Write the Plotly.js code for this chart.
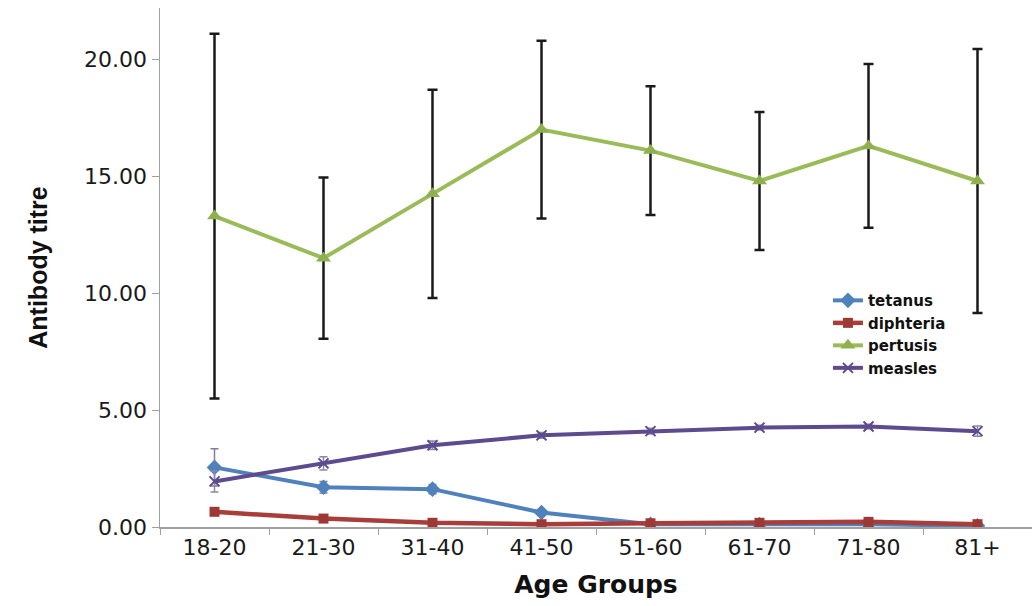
<!DOCTYPE html>
<html>
<head>
<meta charset="utf-8">
<script src="https://cdn.plot.ly/plotly-3.0.1.min.js"></script>
<style>html,body{margin:0;padding:0;background:#fff;}#chart{width:1032px;height:606px;}</style>
</head>
<body>
<div id="chart"></div>
<script>
const ageGroups = ["18-20","21-30","31-40","41-50","51-60","61-70","71-80","81+"];
const tetanus = [2.55, 1.70, 1.62, 0.62, 0.12, 0.10, 0.12, 0.05];
const tetanusErr = [0.80, 0.25, 0.20, 0.12, 0.05, 0.05, 0.05, 0.04];
const diphteria = [0.65, 0.36, 0.18, 0.12, 0.16, 0.18, 0.22, 0.12];
const diphteriaErr = [0.08, 0.05, 0.04, 0.03, 0.03, 0.03, 0.05, 0.03];
const pertusis = [13.3, 11.5, 14.25, 17.0, 16.1, 14.8, 16.3, 14.8];
const pertusisErr = [7.8, 3.45, 4.45, 3.8, 2.75, 2.95, 3.5, 5.65];
const measles = [1.95, 2.72, 3.5, 3.92, 4.1, 4.25, 4.3, 4.1];
const measlesErr = [0.45, 0.28, 0.18, 0.12, 0.12, 0.1, 0.1, 0.22];

const errStyle = (arr, color, thick, w) => ({type:'data', array:arr, visible:true, color:color, thickness:thick, width:w});

const traces = [
  {name:'tetanus', x:ageGroups, y:tetanus, type:'scatter', mode:'lines+markers',
   line:{color:'#4F81BD', width:4}, marker:{symbol:'diamond', size:12, color:'#4F81BD'},
   error_y: errStyle(tetanusErr, '#7f7f9a', 1.5, 4)},
  {name:'diphteria', x:ageGroups, y:diphteria, type:'scatter', mode:'lines+markers',
   line:{color:'#A93D39', width:4.5}, marker:{symbol:'square', size:10, color:'#9E3834'},
   error_y: errStyle(diphteriaErr, '#8a5050', 1.5, 4)},
  {name:'pertusis', x:ageGroups, y:pertusis, type:'scatter', mode:'lines+markers',
   line:{color:'#9BBB59', width:4}, marker:{symbol:'triangle-up', size:13, color:'#8FB04E'},
   error_y: errStyle(pertusisErr, '#1a1a1a', 2.5, 5)},
  {name:'measles', x:ageGroups, y:measles, type:'scatter', mode:'lines+markers',
   line:{color:'#5E4A8E', width:4}, marker:{symbol:'x-thin', size:10, color:'#5E4A8E', line:{color:'#5E4A8E', width:2}},
   error_y: errStyle(measlesErr, '#8a8aa0', 1.5, 4)}
];

const layout = {
  width:1032, height:606,
  margin:{l:160, r:0, t:8, b:79},
  paper_bgcolor:'#ffffff', plot_bgcolor:'#ffffff',
  showlegend:true,
  legend:{x:0.766, y:0.468, xanchor:'left', yanchor:'top', bgcolor:'rgba(0,0,0,0)',
          font:{family:'DejaVu Sans', size:15, color:'#111', weight:'bold'}, tracegroupgap:0},
  xaxis:{type:'category', range:[-0.5, 7.5], showline:true, linecolor:'#a0a0a0', linewidth:1.5,
         ticks:'outside', tickson:'boundaries', ticklen:6, tickcolor:'#a0a0a0', showgrid:false, zeroline:false,
         tickfont:{family:'DejaVu Sans', size:22, color:'#1a1a1a'},
         title:{text:'Age Groups', font:{family:'DejaVu Sans', size:25, color:'#111', weight:'bold'}, standoff:16}},
  yaxis:{range:[0, 22.2], tickvals:[0,5,10,15,20], tickformat:'.2f', showline:true, linecolor:'#a0a0a0', linewidth:1.5,
         ticks:'outside', ticklen:7, tickcolor:'#a0a0a0', showgrid:false, zeroline:false,
         tickfont:{family:'DejaVu Sans', size:22, color:'#1a1a1a'},
         title:{text:'Antibody titre', font:{family:'Liberation Sans', size:25, color:'#111', weight:'bold'}, standoff:29}}
};

Plotly.newPlot('chart', traces, layout, {displayModeBar:false, staticPlot:true});
</script>
</body>
</html>
